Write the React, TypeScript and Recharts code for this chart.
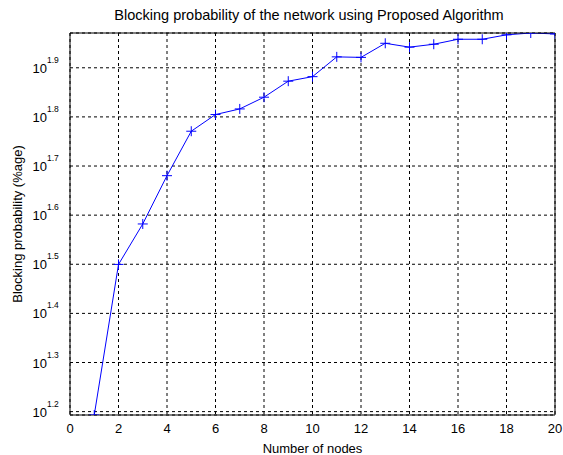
import React from 'react';
import { LineChart, Line, XAxis, YAxis, CartesianGrid } from 'recharts';

const nodes = [1, 2, 3, 4, 5, 6, 7, 8, 9, 10, 11, 12, 13, 14, 15, 16, 17, 18, 19, 20];
const blockingProb = [15.6, 31.6, 38.2, 47.9, 59.0, 63.8, 65.5, 69.2, 74.6, 76.2, 83.6, 83.4, 89.1, 87.5, 88.7, 90.8, 90.8, 92.7, 93.5, 93.1];
const xTicks = [0, 2, 4, 6, 8, 10, 12, 14, 16, 18, 20];
const yExponents = [1.2, 1.3, 1.4, 1.5, 1.6, 1.7, 1.8, 1.9];
const yTicks = yExponents.map((e) => Math.pow(10, e));

const data = nodes.map((n, i) => ({ n, p: blockingProb[i] }));

const FONT = 'Arial, "Liberation Sans", sans-serif';

function PowerTick(props: any) {
  const { x, y, payload } = props;
  const exp = Math.log10(payload.value).toFixed(1);
  return (
    <g>
      <text x={x - 15} y={y + 5} textAnchor="end" fontSize={13} fontFamily={FONT} fill="#000">
        10
      </text>
      <text x={x - 15} y={y - 5} textAnchor="start" fontSize={8.5} fontFamily={FONT} fill="#000">
        {exp}
      </text>
    </g>
  );
}

function PlusDot(props: any) {
  const { cx, cy } = props;
  if (cx == null || cy == null) return null;
  return (
    <path d={`M${cx - 5},${cy}H${cx + 5}M${cx},${cy - 5}V${cy + 5}`} stroke="#0000ff" strokeWidth={1} fill="none" />
  );
}

export default function App() {
  return (
    <div style={{ position: 'absolute', left: 0, top: 0, width: 563, height: 455, background: '#fff', fontFamily: FONT }}>
      <div style={{ position: 'absolute', top: 7, left: 66, width: 486, textAlign: 'center', fontSize: 14.5, color: '#000' }}>
        Blocking probability of the network using Proposed Algorithm
      </div>
      <LineChart width={563} height={455} data={data} margin={{ top: 32, right: 7, bottom: 0, left: 0 }}>
        <CartesianGrid xAxisId="b" yAxisId="l" stroke="#000" strokeDasharray="3 3" />
        <XAxis
          xAxisId="b"
          dataKey="n"
          type="number"
          domain={[0, 20]}
          ticks={xTicks}
          height={40}
          stroke="#000"
          tickLine={false}
          tickMargin={3}
          tick={{ fontSize: 13, fontFamily: FONT, fill: '#000' }}
          label={{ value: 'Number of nodes', position: 'insideBottom', offset: 2, fontSize: 13, fontFamily: FONT, fill: '#000' }}
          allowDataOverflow
        />
        <XAxis xAxisId="t" orientation="top" dataKey="n" type="number" domain={[0, 20]} height={1} stroke="#000" tick={false} tickLine={false} />
        <YAxis
          yAxisId="l"
          scale="log"
          type="number"
          domain={[15.6, 93.5]}
          ticks={yTicks}
          width={70}
          stroke="#000"
          tickLine={false}
          tick={<PowerTick />}
          allowDataOverflow
          label={{ value: 'Blocking probability (%age)', angle: -90, position: 'insideLeft', offset: 17, fontSize: 13, fontFamily: FONT, fill: '#000', style: { textAnchor: 'middle' } }}
        />
        <YAxis yAxisId="r" orientation="right" scale="log" type="number" domain={[15.6, 93.5]} width={1} stroke="#000" tick={false} tickLine={false} allowDataOverflow />
        <Line
          xAxisId="b"
          yAxisId="l"
          type="linear"
          dataKey="p"
          stroke="#0000ff"
          strokeWidth={1}
          dot={<PlusDot />}
          isAnimationActive={false}
        />
      </LineChart>
    </div>
  );
}
